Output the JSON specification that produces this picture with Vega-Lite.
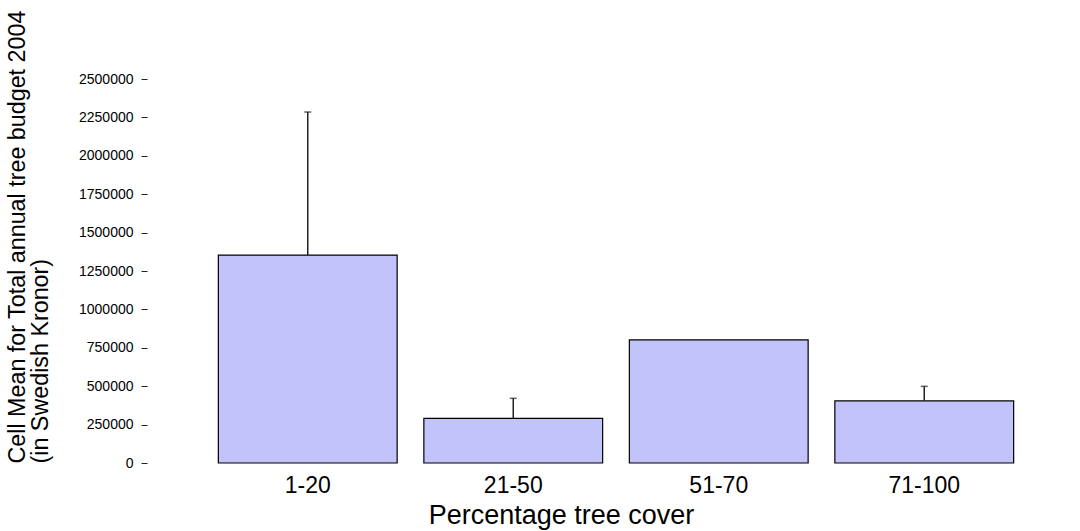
{
  "$schema": "https://vega.github.io/schema/vega-lite/v6.json",
  "autosize": "none",
  "width": 822,
  "height": 384,
  "padding": {"left": 205, "top": 79, "right": 53, "bottom": 68},
  "background": "white",
  "config": {
    "view": {"stroke": null},
    "font": "Liberation Sans"
  },
  "data": {
    "values": [
      {"cover": "1-20", "mean": 1354000, "upper": 2285000},
      {"cover": "21-50", "mean": 291000, "upper": 421000},
      {"cover": "51-70", "mean": 801000, "upper": null},
      {"cover": "71-100", "mean": 404000, "upper": 499000}
    ]
  },
  "resolve": {"axis": {"y": "independent"}},
  "encoding": {
    "x": {
      "field": "cover",
      "type": "nominal",
      "sort": null,
      "scale": {"paddingInner": 0.13, "paddingOuter": 0.065},
      "axis": {
        "title": "Percentage tree cover",
        "labelAngle": 0,
        "labelFontSize": 23,
        "labelColor": "#000000",
        "labelPadding": 11,
        "domain": false,
        "ticks": false,
        "titleFontSize": 27,
        "titleFontWeight": "normal",
        "titleColor": "#000000",
        "titlePadding": 5,
        "titleX": 356
      }
    }
  },
  "layer": [
    {
      "mark": {"type": "bar", "fill": "#c3c3fb", "stroke": "#000000", "strokeWidth": 1.2},
      "encoding": {
        "y": {
          "field": "mean",
          "type": "quantitative",
          "scale": {"domain": [0, 2500000], "nice": false},
          "axis": {
            "title": ["Cell Mean for Total annual tree budget 2004", "(in Swedish Kronor)"],
            "format": "d",
            "values": [0, 250000, 500000, 750000, 1000000, 1250000, 1500000, 1750000, 2000000, 2250000, 2500000],
            "labelOverlap": false,
            "offset": 58,
            "domain": false,
            "grid": false,
            "tickSize": 6,
            "tickColor": "#222222",
            "labelFontSize": 14,
            "labelColor": "#000000",
            "labelPadding": 8,
            "titleFontSize": 23.3,
            "titleFontWeight": "normal",
            "titleColor": "#000000",
            "titleAngle": 270,
            "titleAlign": "left",
            "titleBaseline": "bottom",
            "titleLineHeight": 23,
            "titleX": -118,
            "titleY": 384
          }
        }
      }
    },
    {
      "transform": [{"filter": "datum.upper != null"}],
      "mark": {"type": "rule", "color": "#222222", "strokeWidth": 1.5},
      "encoding": {
        "y": {"field": "mean", "type": "quantitative", "axis": null},
        "y2": {"field": "upper"}
      }
    },
    {
      "transform": [{"filter": "datum.upper != null"}],
      "mark": {"type": "tick", "orient": "horizontal", "color": "#222222", "size": 7, "thickness": 1.5},
      "encoding": {
        "y": {"field": "upper", "type": "quantitative", "axis": null}
      }
    }
  ]
}
